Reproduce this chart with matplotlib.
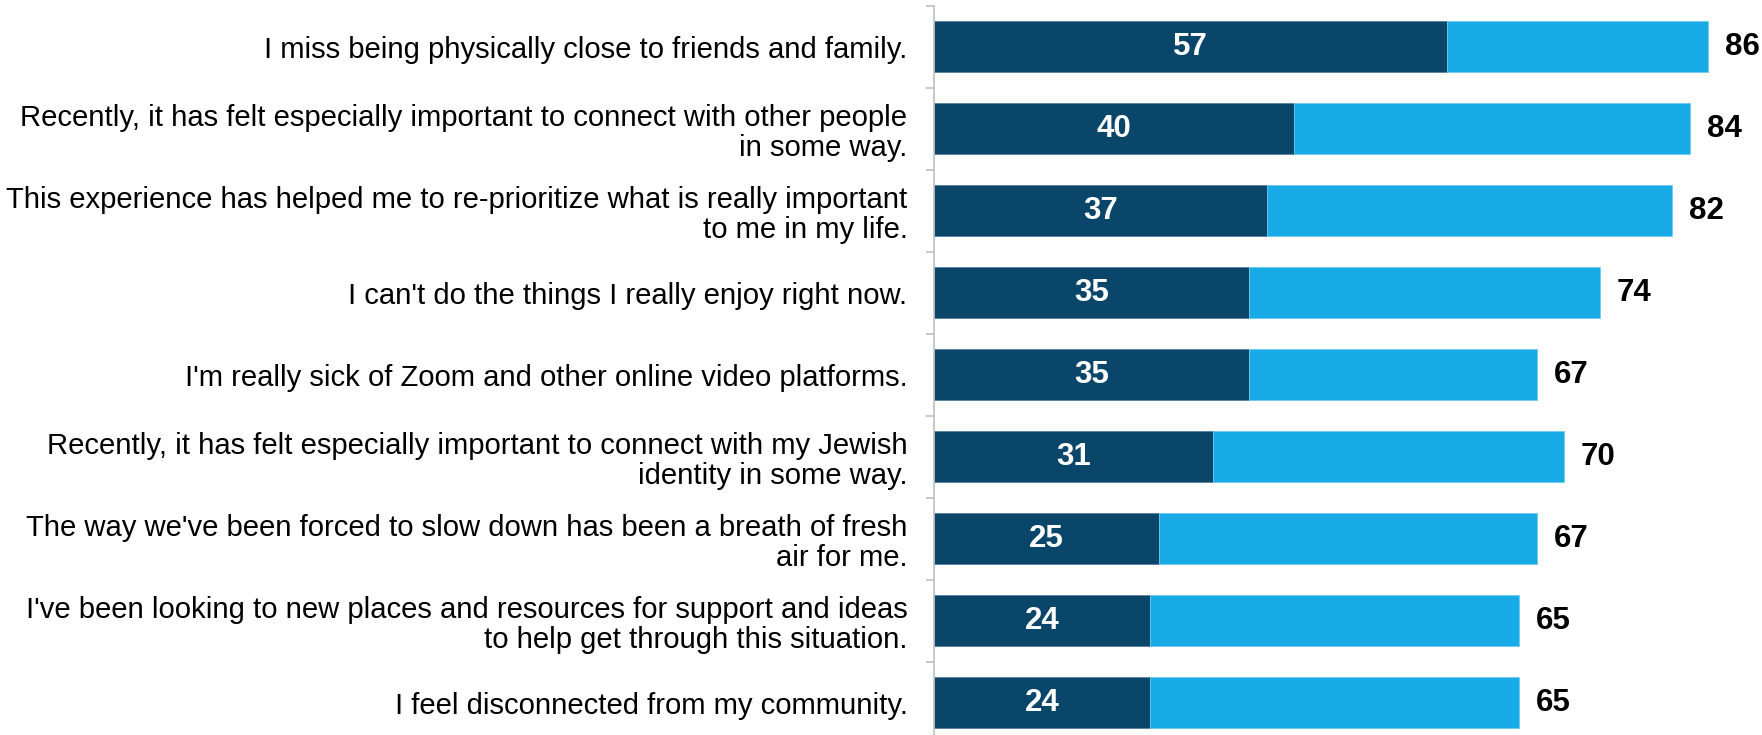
import matplotlib
matplotlib.use("Agg")
import matplotlib.pyplot as plt
import numpy as np

statements = [
    "I miss being physically close to friends and family.",
    "Recently, it has felt especially important to connect with other people\nin some way.",
    "This experience has helped me to re-prioritize what is really important\nto me in my life.",
    "I can't do the things I really enjoy right now.",
    "I'm really sick of Zoom and other online video platforms.",
    "Recently, it has felt especially important to connect with my Jewish\nidentity in some way.",
    "The way we've been forced to slow down has been a breath of fresh\nair for me.",
    "I've been looking to new places and resources for support and ideas\nto help get through this situation.",
    "I feel disconnected from my community.",
]
strongly_agree = [57, 40, 37, 35, 35, 31, 25, 24, 24]
total_agree = [86, 84, 82, 74, 67, 70, 67, 65, 65]

dark = "#0A466A"
light = "#18ABE8"

plt.rcParams['font.family'] = ['Liberation Sans', 'DejaVu Sans']

fig = plt.figure(figsize=(17.62, 7.35), dpi=100)
ax = fig.add_axes([0.530, -0.0116, 0.47, 1.004])

y = np.arange(len(statements))
sa = np.array(strongly_agree)
tot = np.array(total_agree)

ax.barh(y, sa, height=0.62, color=dark, edgecolor="#5A7F99", linewidth=0.6)
ax.barh(y, tot - sa, left=sa, height=0.62, color=light, edgecolor="#6CCBF2", linewidth=0.6)

for i in range(len(y)):
    ax.text(sa[i] / 2, y[i], str(sa[i]), ha="center", va="center",
            color="white", fontsize=22.5, fontweight="bold")
    ax.text(tot[i] + 1.9, y[i], str(tot[i]), ha="left", va="center",
            color="black", fontsize=22.5, fontweight="bold")

ax.set_xlim(0, 92)
ax.set_ylim(8.5, -0.5)

ax.set_yticks(y)
ax.set_yticklabels(statements, fontsize=21.1, ha="right", linespacing=1.1)
ax.tick_params(axis="y", which="major", length=0, pad=19)
ax.set_yticks(np.arange(-0.5, 9, 1.0), minor=True)
ax.tick_params(axis="y", which="minor", length=6, width=1.2, color="#BFBFBF")

ax.set_xticks([])
for s in ["top", "right", "bottom"]:
    ax.spines[s].set_visible(False)
ax.spines["left"].set_color("#BFBFBF")
ax.spines["left"].set_linewidth(1.2)

fig.savefig("out.png", dpi=100)
